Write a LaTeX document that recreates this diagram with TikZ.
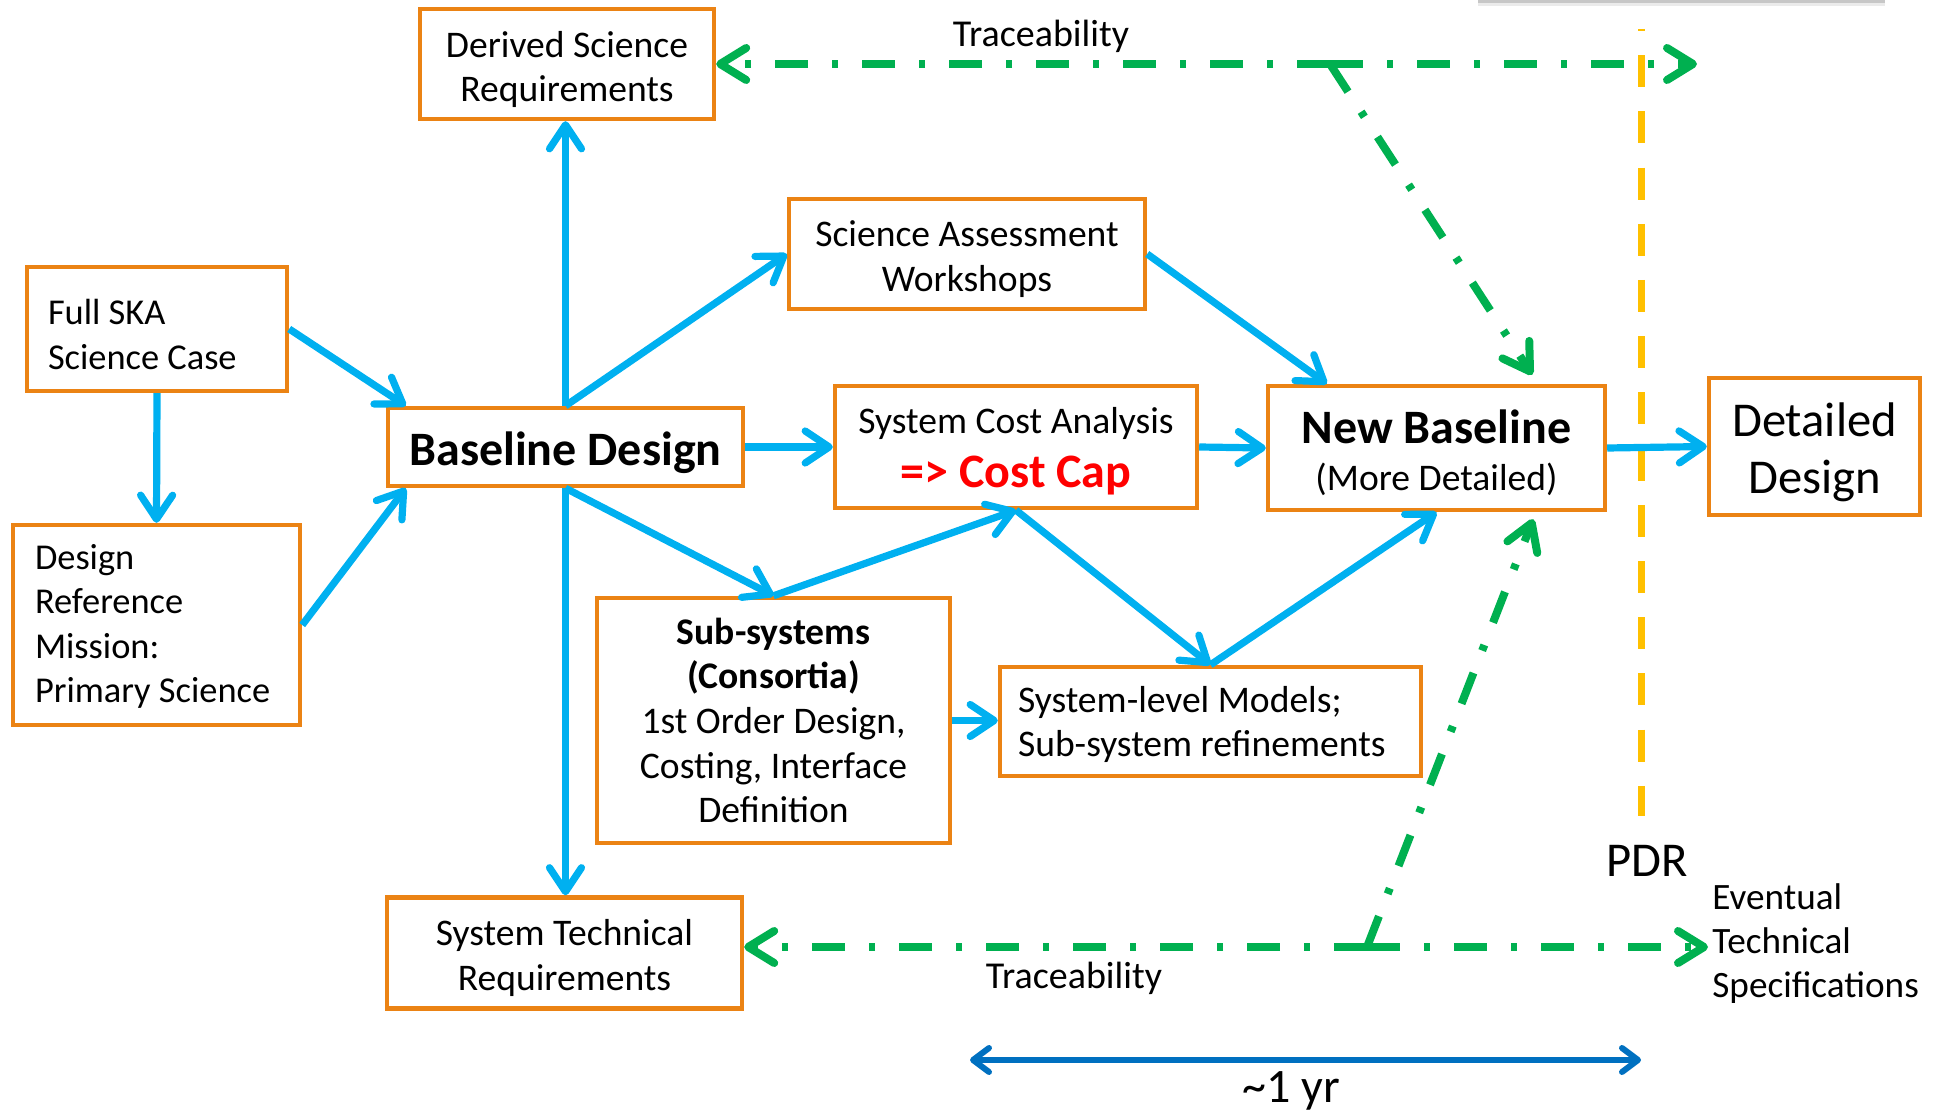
\documentclass[tikz,border=0pt]{standalone}
\usepackage{fontspec}
\setmainfont{Carlito}
\usetikzlibrary{arrows.meta}

\definecolor{boxorange}{RGB}{235,131,20}
\definecolor{flowblue}{RGB}{0,176,240}
\definecolor{tracegreen}{RGB}{0,176,80}
\definecolor{pdryellow}{RGB}{255,192,0}
\definecolor{yearblue}{RGB}{0,112,192}
\definecolor{capred}{RGB}{255,0,0}

% invisible strut that pushes a box's first line down
\newcommand{\boxstrut}[1]{\rule{0pt}{#1}}

\begin{document}
\begin{tikzpicture}[x=0.5pt, y=-0.5pt,
    >={Straight Barb[length=12pt,width=16pt,round]},
    box/.style={draw=boxorange, line width=2.2pt, inner sep=0pt, align=center, font=\fontsize{18.8}{22.3}\selectfont},
    leftbox/.style={box, align=flush left, execute at begin node={\boxstrut{#1}}},
    flow/.style={draw=flowblue, line width=3.6pt, ->},
    trace/.style={draw=tracegreen, line width=4pt, dash pattern=on 16.5pt off 12pt on 3pt off 12pt},
    tracetip/.style={arrows={-Straight Barb[length=13pt,width=16pt,round]}},
    tracelabel/.style={inner sep=0pt, font=\fontsize{19}{23}\selectfont}]
  \useasboundingbox (0,0) rectangle (1939,1112);

  % Boxes
  \node[box, minimum width=147pt, minimum height=55pt] (derived) at (567,64) {\boxstrut{18.5pt}Derived Science\\Requirements};
  \node[box, minimum width=178pt, minimum height=55pt] (sciass) at (967,254) {\boxstrut{18pt}Science Assessment\\Workshops};
  \node[leftbox=18pt, inner xsep=10.5pt, text width=109pt, minimum height=62pt, font=\fontsize{18.2}{22.3}\selectfont] (fullska) at (157,329) {Full SKA\\Science Case};
  \node[leftbox=14pt, inner xsep=11pt, text width=121.5pt, minimum height=100pt, font=\fontsize{18.2}{22.3}\selectfont] (drm) at (156.5,625) {Design\\Reference\\Mission:\\Primary Science};
  \node[box, minimum width=177.5pt, minimum height=39pt, font=\fontsize{24}{28}\selectfont\bfseries] (base) at (565.5,447) {\boxstrut{23pt}Baseline Design};
  \node[box, minimum width=181pt, minimum height=61pt] (cost) at (1016,447) {\boxstrut{17.3pt}System Cost Analysis\\[5pt]{\fontsize{24}{28}\selectfont\bfseries\color{capred}=> Cost Cap}};
  \node[box, minimum width=168.5pt, minimum height=62pt] (newbase) at (1436.5,448) {{\fontsize{24}{28}\selectfont\bfseries\boxstrut{21.5pt}New Baseline}\\[1pt](More Detailed)};
  \node[box, minimum width=105.5pt, minimum height=68.5pt, font=\fontsize{24.3}{28.5}\selectfont] (detailed) at (1814.5,446.5) {\boxstrut{23pt}Detailed\\Design};
  \node[box, minimum width=176.5pt, minimum height=122.5pt] (subsys) at (773.5,720.5) {\textbf{Sub-systems}\\\textbf{(Consortia)}\\1st Order Design,\\Costing, Interface\\Definition};
  \node[leftbox=16pt, inner xsep=9pt, text width=192.5pt, minimum height=54.5pt] (models) at (1210.5,721.5) {System-level Models;\\Sub-system refinements};
  \node[box, minimum width=177.5pt, minimum height=55.5pt] (techreq) at (564.5,953) {\boxstrut{17.8pt}System Technical\\Requirements};

  % Labels
  \node[tracelabel] (tracetop) at (1041,36) {Traceability};
  \node[tracelabel] (tracebot) at (1074,978) {Traceability};
  \node[inner sep=0pt, font=\fontsize{24.3}{28}\selectfont] (pdr) at (1647,861) {PDR};
  \node[inner sep=0pt, anchor=west, align=flush left, font=\fontsize{18.6}{22}\selectfont] (specs) at (1712,944) {Eventual\\Technical\\Specifications};
  \node[inner sep=0pt, font=\fontsize{24}{28}\selectfont] (year) at (1291,1091) {\textasciitilde 1 yr};

  % Shadow of the box above
  \fill[black!22] (1478,0) rectangle (1885,3);
  \fill[black!8] (1478,3) rectangle (1885,6);

  % PDR line
  \draw[pdryellow, line width=3.5pt, dash pattern=on 16pt off 12.1pt, dash phase=15pt] (1641,29) -- (1641,816);

  % Flow
  \draw[flow] (fullska.east) -- ([xshift=10pt]base.north west);
  \draw[flow] (drm.east) -- ([xshift=10pt]base.south west);
  \draw[flow] (fullska.south) -- (drm.north);
  \draw[flow] (base.north) -- (base.north |- derived.south);
  \draw[flow] (base.north) -- (sciass.west);
  \draw[flow] (base.east) -- (cost.west);
  \draw[flow] (base.south) -- (subsys.north);
  \draw[flow] (base.south) -- (base.south |- techreq.north);
  \draw[flow] (subsys.north) -- (cost.south);
  \draw[flow] (cost.south) -- (models.north);
  \draw[flow] (subsys.east) -- (subsys.east -| models.west);
  \draw[flow] (models.north) -- (newbase.south);
  \draw[flow] (sciass.east) -- ([xshift=30.5pt]newbase.north west);
  \draw[flow] (cost.east) -- (newbase.west);
  \draw[flow] (newbase.east) -- (detailed.west);

  % Traceability
  \coordinate (toptip) at (1697,64);
  \coordinate (topknee) at (1330,64);
  \coordinate (botknee) at (1367,947);
  \draw[trace, tracetip] (topknee) -- (derived.east);
  \draw[trace, tracetip] (topknee) -- (toptip);
  \draw[trace, tracetip] (topknee) -- ([xshift=-37.5pt,yshift=4.5pt]newbase.north east);
  \draw[trace, tracetip] (botknee) -- (botknee -| techreq.east);
  \draw[trace, tracetip] (botknee) -- ([xshift=-2pt]botknee -| specs.west);
  \draw[trace, tracetip] (botknee) -- ([xshift=-37pt,yshift=-3.5pt]newbase.south east);

  % Time span
  \coordinate (spanL) at (970,1060);
  \coordinate (spanR) at (1641,1060);
  \draw[yearblue, line width=3pt, {Straight Barb[length=8pt,width=12pt,round]}-{Straight Barb[length=8pt,width=12pt,round]}] (spanL) -- (spanR);
\end{tikzpicture}
\end{document}
